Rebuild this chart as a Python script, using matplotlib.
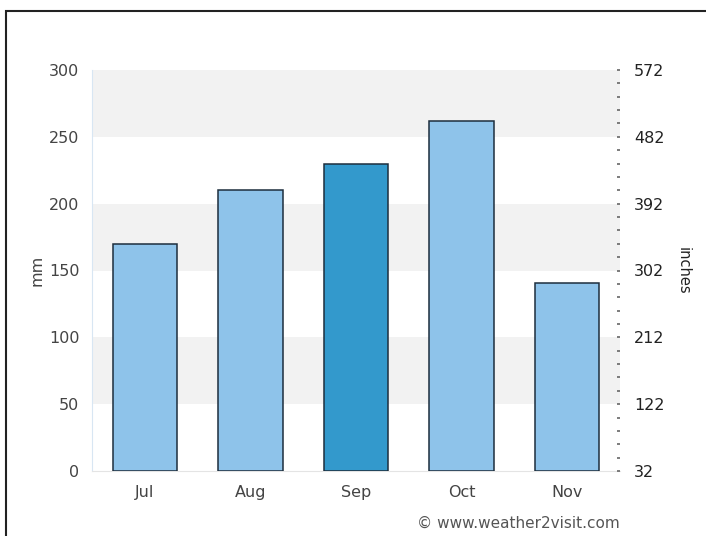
import matplotlib
matplotlib.use("Agg")
import matplotlib.pyplot as plt
from matplotlib.patches import Rectangle
import numpy as np

months = ["Jul", "Aug", "Sep", "Oct", "Nov"]
rain_mm = [170, 210, 230, 262, 141]
bar_colors = ["#8ec3ea", "#8ec3ea", "#3399cc", "#8ec3ea", "#8ec3ea"]
left_ticks = [0, 50, 100, 150, 200, 250, 300]
right_ticks = [32, 122, 212, 302, 392, 482, 572]

fs = 11.5
fig = plt.figure(figsize=(7.06, 5.36), dpi=100)
ax = fig.add_axes([92/706, 1-471/536, 528/706, 401/536])

# alternating bands
for lo in [50, 150, 250]:
    ax.axhspan(lo, lo+50, color="#f2f2f2", zorder=0, lw=0)

x = np.arange(len(months))
ax.bar(x, rain_mm, width=0.61, color=bar_colors, edgecolor="#1d2e3d",
       linewidth=1.1, zorder=3)

ax.set_xlim(-0.5, len(months)-0.5)
ax.set_ylim(0, 300)
ax.set_yticks(left_ticks)
ax.set_xticks(x)
ax.set_xticklabels(months)
tc = "#444444"
ax.tick_params(axis="y", length=0, pad=9, labelsize=fs, labelcolor=tc)
ax.tick_params(axis="x", length=0, pad=10, labelsize=fs, labelcolor=tc)
for s in ["top", "right"]:
    ax.spines[s].set_visible(False)
ax.spines["left"].set_color("#d8e6f3")
ax.spines["bottom"].set_color("#e4e4e4")
ax.set_ylabel("mm", fontsize=fs, color=tc, labelpad=3)

ax2 = ax.twinx()
ax2.set_ylim(32, 572)
ax2.set_yticks(right_ticks)
ax2.set_yticks(np.arange(32, 573, 18), minor=True)
ax2.tick_params(axis="y", which="both", direction="in", length=2.5, width=1.2,
                color="#666666", pad=10, labelsize=fs, labelcolor="#222222")
for s in ax2.spines.values():
    s.set_visible(False)
ax2.set_ylabel("inches", rotation=270, fontsize=fs - 1, color="#222222", labelpad=19)

fig.text(620/706, 1-523/536, "© www.weather2visit.com", ha="right", va="center",
         fontsize=11, color="#555555")

fig.add_artist(Rectangle((6/706, -0.1), 1.2, 1-11/536+0.1, transform=fig.transFigure,
                         fill=False, edgecolor="#222222", linewidth=1.5))

fig.savefig("out.png", dpi=100)
